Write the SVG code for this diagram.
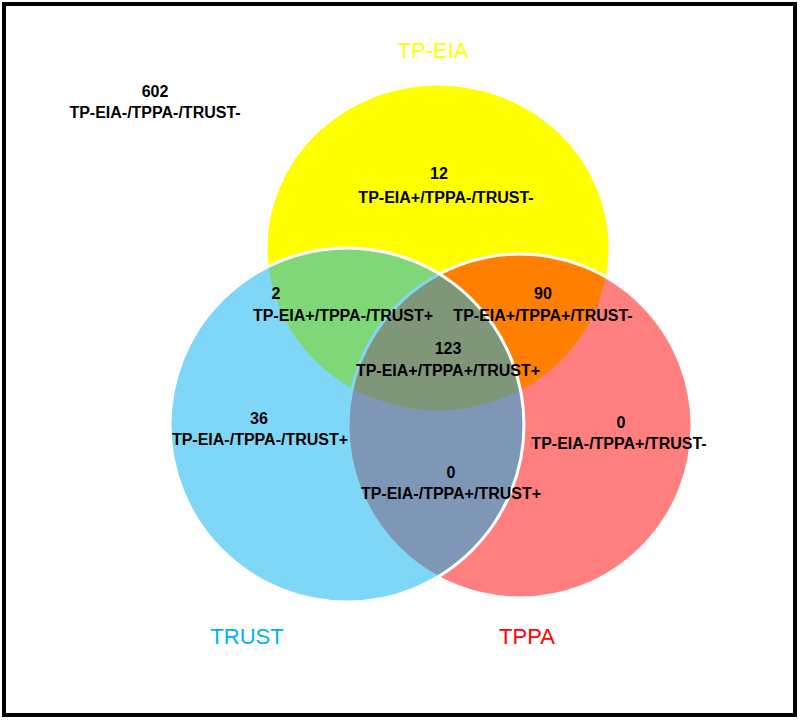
<svg xmlns="http://www.w3.org/2000/svg" width="800" height="720" viewBox="0 0 800 720">
<style>
.set{stroke:#FFFFFF;stroke-width:3}
.num{font-family:"Liberation Sans",Arial,sans-serif;font-weight:bold;font-size:16px;fill:#000;text-anchor:middle}
.ttl{font-family:"Liberation Sans",Arial,sans-serif;font-size:22px;text-anchor:middle}
</style>
<rect x="0" y="0" width="800" height="720" fill="#FFFFFF"/>
<rect id="frame" x="4" y="4" width="791" height="711" fill="none" stroke="#000" stroke-width="4"/>
<g id="sets">
<g id="tp-eia"><ellipse class="set" cx="438" cy="248" rx="172" ry="164" fill="#FFFF00"/></g>
<g id="tppa"><circle class="set" cx="520" cy="426" r="172" fill="#FF0000" fill-opacity="0.5"/></g>
<g id="trust"><circle class="set" cx="347" cy="425" r="177" fill="#00B0F0" fill-opacity="0.5"/></g>
</g>
<g id="connectors"></g>
<g id="labels">
<g id="lbl-none"><text class="num" x="155" y="97">602</text><text class="num" x="155" y="118">TP-EIA-/TPPA-/TRUST-</text></g>
<g id="lbl-eia"><text class="num" x="439" y="179">12</text><text class="num" x="446" y="203">TP-EIA+/TPPA-/TRUST-</text></g>
<g id="lbl-eia-trust"><text class="num" x="276" y="299">2</text><text class="num" x="343" y="321">TP-EIA+/TPPA-/TRUST+</text></g>
<g id="lbl-eia-tppa"><text class="num" x="543" y="299">90</text><text class="num" x="543" y="321">TP-EIA+/TPPA+/TRUST-</text></g>
<g id="lbl-all"><text class="num" x="448" y="354">123</text><text class="num" x="448" y="376">TP-EIA+/TPPA+/TRUST+</text></g>
<g id="lbl-trust"><text class="num" x="259" y="424">36</text><text class="num" x="260" y="445">TP-EIA-/TPPA-/TRUST+</text></g>
<g id="lbl-tppa"><text class="num" x="621" y="428">0</text><text class="num" x="619" y="449">TP-EIA-/TPPA+/TRUST-</text></g>
<g id="lbl-tppa-trust"><text class="num" x="451" y="478">0</text><text class="num" x="451" y="499">TP-EIA-/TPPA+/TRUST+</text></g>
<g id="title-eia"><text class="ttl" x="433" y="58" fill="#FFFF00">TP-EIA</text></g>
<g id="title-trust"><text class="ttl" x="247" y="644" fill="#00B0F0">TRUST</text></g>
<g id="title-tppa"><text class="ttl" x="527" y="644" fill="#FF0000">TPPA</text></g>
</g>
</svg>
